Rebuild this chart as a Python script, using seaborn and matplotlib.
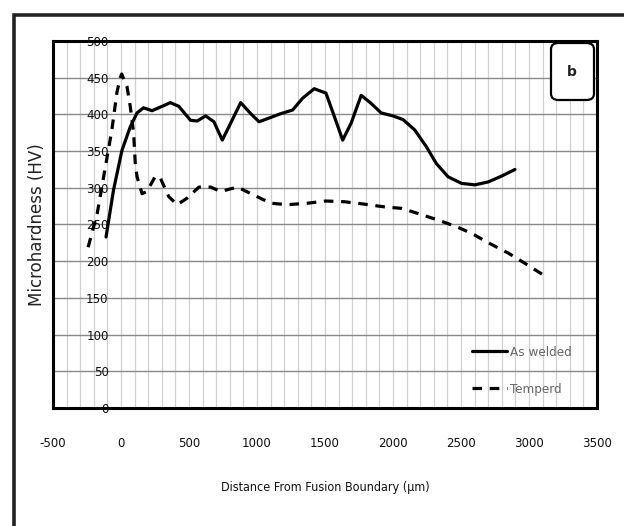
import os
import numpy as np
import pandas as pd
import matplotlib
matplotlib.use("Agg")
import matplotlib.pyplot as plt
import matplotlib.font_manager as fm
from matplotlib.font_manager import FontProperties
import seaborn as sns
from matplotlib.patches import FancyBboxPatch, Rectangle
from matplotlib.lines import Line2D

# ---- data ----
welded_x = [-110, -55, 7, 68, 118, 166, 228, 290, 363, 425, 511, 560, 622, 683,
            745, 806, 880, 954, 1015, 1089, 1175, 1262, 1335, 1421, 1507, 1569,
            1630, 1692, 1766, 1839, 1913, 1999, 2073, 2159, 2245, 2319, 2405,
            2504, 2602, 2700, 2799, 2897]
welded_y = [233, 297, 351, 383, 402, 409, 405, 410, 416, 411, 392, 391, 398, 390,
            365, 388, 416, 401, 390, 395, 401, 406, 422, 435, 429, 397,
            365, 388, 426, 415, 402, 398, 393, 379, 356, 333, 315,
            306, 304, 308, 316, 325]

temper_x = [-242, -175, -67, -30, -5, 5, 44, 68, 93, 105, 118, 155, 191, 253, 290,
            351, 413, 487, 573, 659, 733, 856, 978, 1101, 1224, 1372, 1507, 1643,
            1778, 1938, 2061, 2184, 2332, 2467, 2577, 2712, 2848, 2971, 3107]
temper_y = [219, 265, 379, 430, 450, 455, 438, 411, 374, 333, 315, 292, 295, 316, 313,
            288, 277, 286, 301, 301, 295, 301, 290, 279, 277, 279, 282, 281,
            278, 274, 272, 265, 256, 247, 238, 224, 211, 197, 181]

x_ticks = [-500, 0, 500, 1000, 1500, 2000, 2500, 3000, 3500]
y_ticks = [0, 50, 100, 150, 200, 250, 300, 350, 400, 450, 500]
series_names = ["As welded", "Temperd"]
x_title = "Distance From Fusion Boundary (\u00b5m)"
y_title = "Microhardness (HV)"
panel_label = "b"

df = pd.concat([
    pd.DataFrame({"x": welded_x, "y": welded_y, "series": series_names[0]}),
    pd.DataFrame({"x": temper_x, "y": temper_y, "series": series_names[1]}),
])

sns.set_theme(style="white")
plt.rcParams["font.family"] = ["DejaVu Sans"]


def find_font(names):
    files = {os.path.basename(f.fname): f.fname for f in fm.fontManager.ttflist}
    for n in names:
        if n in files:
            return n, files[n]
    return None, None


fname, fpath = find_font(["LiberationSansNarrow-Regular.ttf",
                          "DejaVuSansCondensed.ttf",
                          "OpenSans_Condensed-Regular.ttf"])
if fpath is not None:
    scale = 1.0 if "Liberation" in fname else 0.88
    def narrow(size):
        return FontProperties(fname=fpath, size=size * scale)
else:
    def narrow(size):
        return FontProperties(family="Lato", size=size * 0.85)

fig = plt.figure(figsize=(6.24, 5.26), dpi=100)
ax = fig.add_axes([53/624, 1 - 408/526, (597 - 53)/624, (408 - 41)/526])

sns.lineplot(data=df, x="x", y="y", hue="series", style="series",
             palette={series_names[0]: "black", series_names[1]: "black"},
             dashes={series_names[0]: "", series_names[1]: (3, 2.4)},
             linewidth=2.3, sort=False, estimator=None, legend=False, ax=ax)

ax.set_xlim(-500, 3500)
ax.set_ylim(0, 500)
ax.set_xticks(x_ticks)
ax.set_xticks(np.arange(-500, 3501, 100), minor=True)
ax.set_yticks(y_ticks)
ax.set_xticklabels([str(v) for v in x_ticks], fontproperties=narrow(10.7),
                   color="#111111")
ax.set_yticklabels([str(v) for v in y_ticks], fontproperties=narrow(10.7),
                   color="#111111")
ax.grid(True, which="major", axis="y", color="#8a8a8a", linewidth=1.0)
ax.grid(True, which="both", axis="x", color="#d0d0d0", linewidth=0.9)
ax.set_axisbelow(True)
ax.tick_params(axis="y", pad=-40, length=0)
ax.tick_params(axis="x", pad=21, length=0, which="both")
for s in ax.spines.values():
    s.set_color("black")
    s.set_linewidth(2.2)

ax.set_xlabel(x_title, fontproperties=narrow(10.2), color="#111111", labelpad=22)
ax.set_ylabel(y_title, fontsize=12, color="#222222")
ax.yaxis.set_label_coords(-0.013, 0.5)

# legend
handles = [Line2D([0], [0], color="black", lw=2.3),
           Line2D([0], [0], color="black", lw=2.3, dashes=(3, 2.4))]
leg = ax.legend(handles, series_names, loc="lower left", frameon=False,
                prop=narrow(11), handlelength=2.6, handletextpad=0.2,
                labelspacing=1.8, borderpad=0, borderaxespad=0,
                bbox_to_anchor=((472 - 53)/544, (408 - 396)/367))
for t in leg.get_texts():
    t.set_color("#666666")

# panel label box "b"
box = FancyBboxPatch((551/624, 1 - 100/526), (594 - 551)/624, (100 - 43)/526,
                     boxstyle="round,pad=0,rounding_size=0.012",
                     transform=fig.transFigure, facecolor="white",
                     edgecolor="black", linewidth=1.6, zorder=10)
fig.patches.append(box)
fig.text(572/624, 1 - 72/526, panel_label, fontsize=10, fontweight="bold",
         ha="center", va="center", color="#222222", zorder=11)

# outer chart frame
frame = Rectangle((14/624, -0.01), 0.99, 1 - 15/526 + 0.01,
                  transform=fig.transFigure, fill=False,
                  edgecolor="#222222", linewidth=2.6, zorder=0)
fig.patches.append(frame)

fig.savefig("out.png", dpi=100)
